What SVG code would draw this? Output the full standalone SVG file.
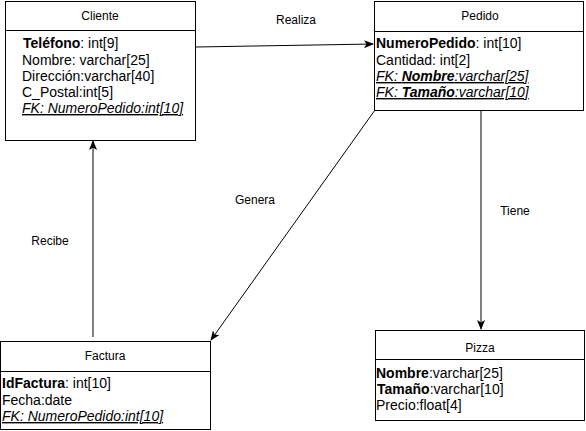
<svg xmlns="http://www.w3.org/2000/svg" width="586" height="431" viewBox="0 0 586 431">
<style>
.box{fill:#fff;stroke:#000;stroke-width:1}
.t{font-family:"Liberation Sans",Arial,sans-serif;font-size:12px;fill:#000}
.f{font-family:"Liberation Sans",Arial,sans-serif;font-size:14px;fill:#000}
.b{font-weight:bold}
.i{font-style:italic}
.u{text-decoration:underline}
.c{stroke:#000;stroke-width:1;fill:none;marker-end:url(#ah)}
</style>
<defs>
<marker id="ah" viewBox="0 0 10 10" refX="9" refY="5" markerWidth="10" markerHeight="10" markerUnits="userSpaceOnUse" orient="auto">
<path d="M0,1 L10,5 L0,9 L2.5,5 Z" fill="#000"/>
</marker>
</defs>
<g id="connectors">
<line class="c" x1="196" y1="47" x2="373" y2="44"/>
<line class="c" x1="481" y1="110" x2="481" y2="329"/>
<line class="c" x1="375" y1="110" x2="211" y2="340"/>
<line class="c" x1="93" y1="337" x2="93" y2="141"/>
<text class="t" x="296" y="24" text-anchor="middle">Realiza</text>
<text class="t" x="515" y="215" text-anchor="middle">Tiene</text>
<text class="t" x="255" y="204" text-anchor="middle">Genera</text>
<text class="t" x="50" y="245" text-anchor="middle">Recibe</text>
</g>
<g id="cliente">
<rect class="box" x="5.5" y="1.5" width="190" height="139"/>
<line x1="5.5" y1="30.5" x2="195.5" y2="30.5" stroke="#000"/>
<text class="t" x="100" y="20" text-anchor="middle">Cliente</text>
<text class="f" x="23" y="48"><tspan class="b">Teléfono</tspan>: int[9]</text>
<text class="f" x="22" y="65">Nombre: varchar[25]</text>
<text class="f" x="22" y="81">Dirección:varchar[40]</text>
<text class="f" x="22" y="97">C_Postal:int[5]</text>
<text class="f i u" x="22" y="113">FK: NumeroPedido:int[10]</text>
</g>
<g id="pedido">
<rect class="box" x="374.5" y="1.5" width="209" height="109"/>
<line x1="374.5" y1="31.5" x2="583.5" y2="31.5" stroke="#000"/>
<text class="t" x="480" y="20" text-anchor="middle">Pedido</text>
<text class="f" x="376" y="48"><tspan class="b">NumeroPedido</tspan>: int[10]</text>
<text class="f" x="376" y="65">Cantidad: int[2]</text>
<text class="f i u" x="376" y="81">FK: <tspan class="b">Nombre</tspan>:varchar[25]</text>
<text class="f i u" x="376" y="97">FK: <tspan class="b">Tamaño</tspan>:varchar[10]</text>
</g>
<g id="factura">
<rect class="box" x="0.5" y="341.5" width="210" height="88"/>
<line x1="0.5" y1="371.5" x2="210.5" y2="371.5" stroke="#000"/>
<text class="t" x="105" y="360" text-anchor="middle">Factura</text>
<text class="f" x="2" y="388"><tspan class="b">IdFactura</tspan>: int[10]</text>
<text class="f" x="2" y="405">Fecha:date</text>
<text class="f i u" x="2" y="421">FK: NumeroPedido:int[10]</text>
</g>
<g id="pizza">
<rect class="box" x="375.5" y="330.5" width="209" height="90"/>
<line x1="375.5" y1="359.5" x2="584.5" y2="359.5" stroke="#000"/>
<text class="t" x="480" y="352" text-anchor="middle">Pizza</text>
<text class="f" x="376" y="378"><tspan class="b">Nombre</tspan>:varchar[25]</text>
<text class="f" x="377" y="394"><tspan class="b">Tamaño</tspan>:varchar[10]</text>
<text class="f" x="376" y="410">Precio:float[4]</text>
</g>
</svg>
